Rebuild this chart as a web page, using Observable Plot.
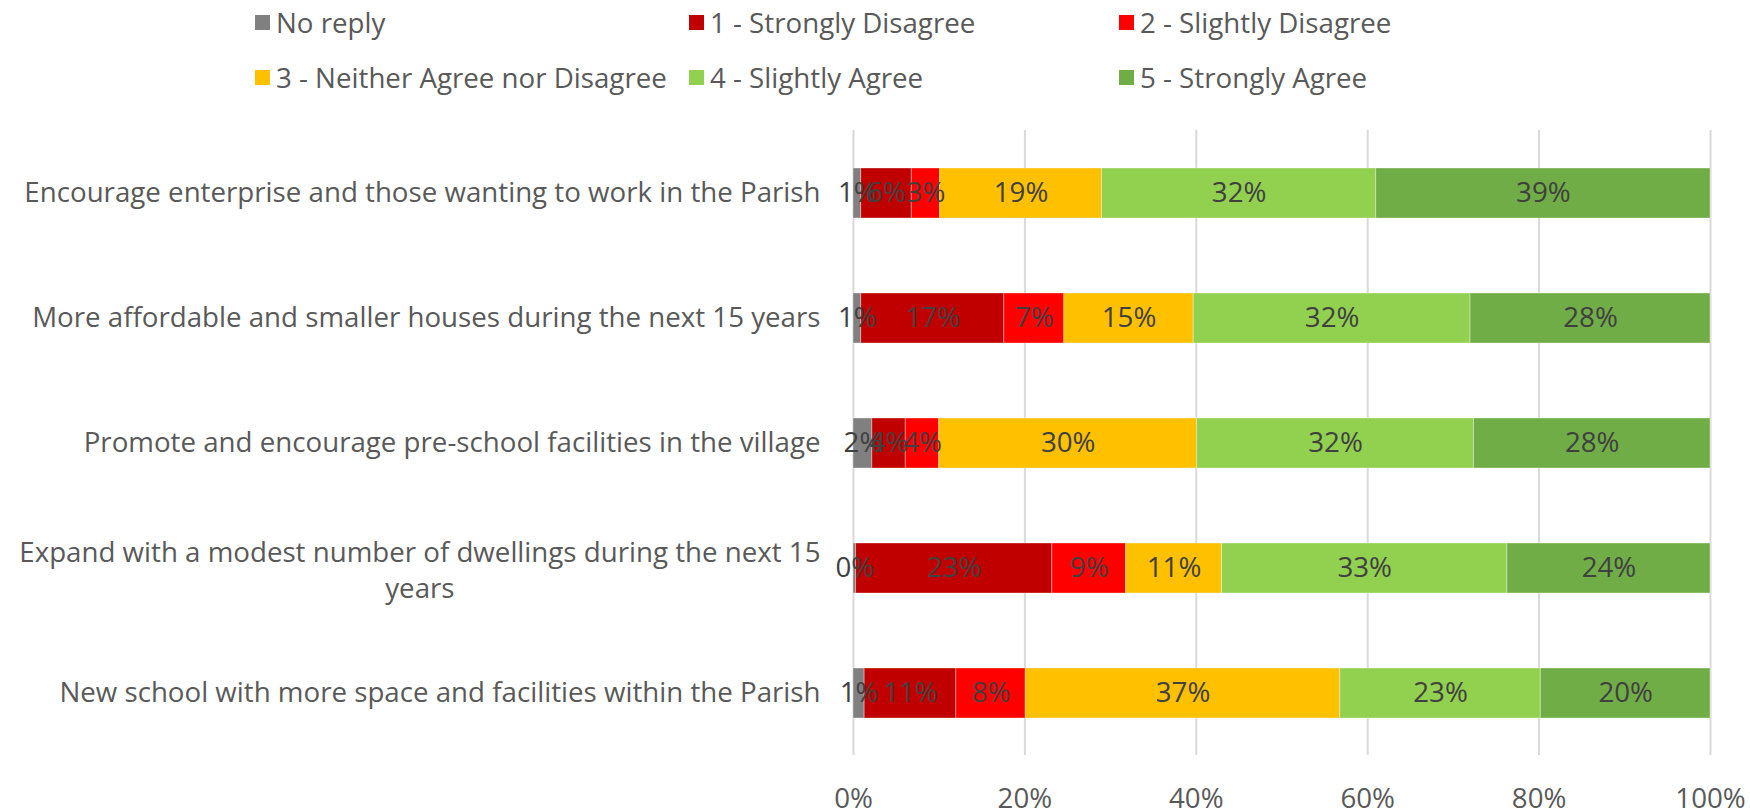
<!DOCTYPE html>
<html>
<head>
<meta charset="utf-8">
<script src="https://cdn.jsdelivr.net/npm/d3@7"></script>
<script src="https://cdn.jsdelivr.net/npm/@observablehq/plot@0.6"></script>
<style>
  html, body { margin: 0; padding: 0; background: #fff; }
  body { width: 1750px; height: 809px; overflow: hidden; font-family: "Open Sans", sans-serif; }
  #legend { position: relative; height: 110px; }
  .item { position: absolute; display: flex; align-items: center; font-size: 27.7px; color: #595959; white-space: nowrap; }
  .sw { width: 15px; height: 15px; margin-right: 6px; }
</style>
</head>
<body>
<div id="legend"></div>
<div id="chart"></div>
<script>
const categories = [
  "Encourage enterprise and those wanting to work in the Parish",
  "More affordable and smaller houses during the next 15 years",
  "Promote and encourage pre-school facilities in the village",
  "Expand with a modest number of dwellings during the next 15 years",
  "New school with more space and facilities within the Parish"
];
const responses = ["No reply", "1 - Strongly Disagree", "2 - Slightly Disagree",
  "3 - Neither Agree nor Disagree", "4 - Slightly Agree", "5 - Strongly Agree"];
const colors = ["#808080", "#C00000", "#FF0000", "#FFC000", "#92D050", "#70AD47"];

const noReply          = [0.9,  0.9,  2.2,  0.3,  1.3];
const stronglyDisagree = [5.9, 16.7,  3.9, 22.9, 10.7];
const slightlyDisagree = [3.3,  7.0,  3.9,  8.6,  8.1];
const neither          = [18.9, 15.1, 30.1, 11.2, 36.7];
const slightlyAgree    = [32.0, 32.3, 32.3, 33.3, 23.4];
const stronglyAgree    = [39.0, 28.0, 27.6, 23.7, 19.8];
const xTicks = [0, 20, 40, 60, 80, 100];

const series = [noReply, stronglyDisagree, slightlyDisagree, neither, slightlyAgree, stronglyAgree];
const data = [];
categories.forEach((c, i) => {
  responses.forEach((r, j) => data.push({category: c, response: r, value: series[j][i]}));
});

// Legend (HTML, above the SVG)
const legend = document.getElementById("legend");
const legendCols = [255, 689, 1119];
const legendRows = [22, 77];
responses.forEach((r, j) => {
  const d = document.createElement("div");
  d.className = "item";
  d.style.left = legendCols[j % 3] + "px";
  d.style.top = (legendRows[Math.floor(j / 3)] - 20) + "px";
  d.style.height = "40px";
  const s = document.createElement("span");
  s.className = "sw";
  s.style.background = colors[j];
  d.appendChild(s);
  d.appendChild(document.createTextNode(r));
  legend.appendChild(d);
});

const fontSize = 27.7;
const wrapped = categories[3];
const wrappedLines = "Expand with a modest number of dwellings during the next 15\nyears";
const ctx = document.createElement("canvas").getContext("2d");
ctx.font = `${fontSize}px "Open Sans"`;
const w1 = ctx.measureText(wrappedLines.split("\n")[0]).width;
const labelGap = 33;

const chart = Plot.plot({
  width: 1750,
  height: 699,
  marginLeft: 853,
  marginRight: 40,
  marginTop: 20,
  marginBottom: 54,
  style: {fontFamily: "Open Sans, sans-serif", fontSize: fontSize + "px", color: "#595959", background: "#fff", overflow: "visible"},
  x: {domain: [0, 100], axis: null},
  y: {domain: categories, paddingInner: 0.6, paddingOuter: 0.3, axis: null},
  color: {domain: responses, range: colors},
  marks: [
    Plot.gridX(xTicks, {stroke: "#d9d9d9", strokeOpacity: 1, strokeWidth: 2}),
    Plot.axisX(xTicks, {tickSize: 0, tickPadding: 33, label: null, tickFormat: d => d + "%", fontSize: fontSize, fill: "#595959"}),
    Plot.barX(data, Plot.stackX({x: "value", y: "category", fill: "response", stroke: "#fff", strokeOpacity: 0.35, strokeWidth: 1})),
    Plot.text(data, Plot.stackX({x: "value", y: "category", text: d => Math.round(d.value) + "%", fill: "#404040", fontSize: fontSize})),
    Plot.text(categories.filter(c => c !== wrapped), {y: d => d, text: d => d, frameAnchor: "left", textAnchor: "end", dx: -labelGap, fill: "#595959", fontSize: fontSize}),
    Plot.text([wrapped], {y: d => d, text: () => wrappedLines, frameAnchor: "left", textAnchor: "middle", dx: -(labelGap + w1 / 2), lineHeight: 1.3, fill: "#595959", fontSize: fontSize})
  ]
});
document.getElementById("chart").appendChild(chart);
</script>
</body>
</html>
